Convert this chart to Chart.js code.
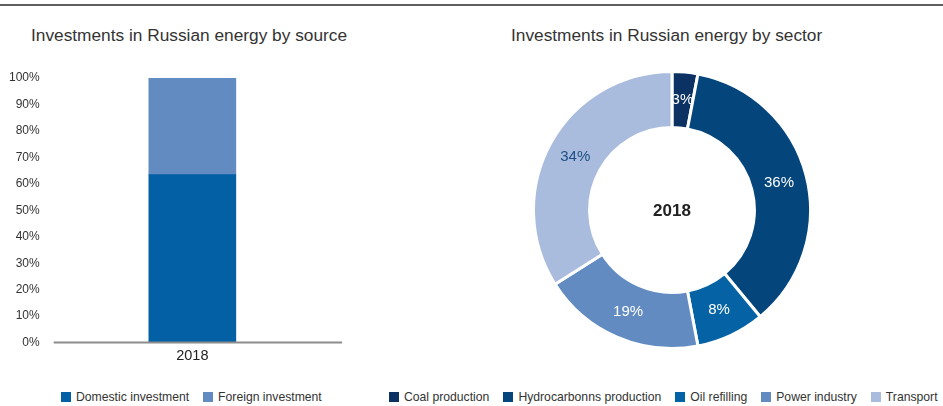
<!DOCTYPE html>
<html>
<head>
<meta charset="utf-8">
<title>Investments in Russian energy</title>
<script src="https://cdn.jsdelivr.net/npm/chart.js@4/dist/chart.umd.min.js"></script>
<style>
    html, body { margin: 0; padding: 0; background: #fff; }
    body { width: 943px; height: 406px; position: relative; overflow: hidden;
           font-family: "Liberation Sans", Arial, sans-serif; color: #333; }
    .rule { position: absolute; left: 0; top: 4px; width: 943px; height: 0; border-top: 2px solid #5f5f5f; }
    .title { position: absolute; top: 27px; font-size: 17.3px; line-height: 17.3px; white-space: nowrap; color: #333; }
    .box { position: absolute; }
    .legend { position: absolute; top: 391px; display: flex; align-items: center;
              font-size: 12.2px; line-height: 12.2px; white-space: nowrap; color: #333; }
    .legend .item { display: flex; align-items: center; margin-right: 14px; }
    .legend .swatch { width: 10px; height: 10px; margin-right: 5px; }
</style>
</head>
<body>
<div class="rule"></div>

<div class="title" style="left:31px">Investments in Russian energy by source</div>
<div class="title" style="left:511px">Investments in Russian energy by sector</div>

<div class="box" style="left:0;top:60px;width:360px;height:310px"><canvas id="sourceChart"></canvas></div>
<div class="box" style="left:532px;top:70px;width:280px;height:280px"><canvas id="sectorChart"></canvas></div>

<div class="legend" id="sourceLegend" style="left:61px"></div>
<div class="legend" id="sectorLegend" style="left:389px"></div>

<script>
'use strict';

// investment by source, share of total (%)
const years = ['2018'];
const sourceNames = ['Domestic investment', 'Foreign investment'];
const domesticShare = [63.5];
const foreignShare = [36.5];

// investment by sector, share of total (%)
const sectorYear = '2018';
const sectorNames = ['Coal production', 'Hydrocarbonns production', 'Oil refilling', 'Power industry', 'Transport'];
const sectorShare = [3, 36, 8, 19, 34];

const percentStep = 10;

const sourceColors = ['#0460a4', '#628bc2'];
const sectorColors = ['#0b3263', '#04467c', '#0462a5', '#628bc2', '#a9bcdd'];
const sectorLabelColors = ['#fff', '#fff', '#fff', '#fff', '#1d4f85'];

Chart.defaults.font.family = '"Liberation Sans", Arial, sans-serif';
Chart.defaults.color = '#333';

function buildLegend(id, names, colors) {
    var el = document.getElementById(id);
    names.forEach(function (name, i) {
        var item = document.createElement('div');
        item.className = 'item';
        var sw = document.createElement('span');
        sw.className = 'swatch';
        sw.style.background = colors[i];
        var txt = document.createElement('span');
        txt.textContent = name;
        item.appendChild(sw);
        item.appendChild(txt);
        el.appendChild(item);
    });
}
buildLegend('sourceLegend', sourceNames, sourceColors);
buildLegend('sectorLegend', sectorNames, sectorColors);

// grey zero line under the bar, a little shorter than the plot area
const baseLine = {
    id: 'baseLine',
    afterDatasetsDraw(chart) {
        const ctx = chart.ctx;
        const y = chart.scales.y.getPixelForValue(0);
        ctx.save();
        ctx.strokeStyle = '#8c8c8c';
        ctx.lineWidth = 2;
        ctx.beginPath();
        ctx.moveTo(chart.chartArea.left + 11, y);
        ctx.lineTo(chart.chartArea.right, y);
        ctx.stroke();
        ctx.restore();
    }
};

new Chart(document.getElementById('sourceChart'), {
    type: 'bar',
    data: {
        labels: years,
        datasets: [
            { label: sourceNames[0], data: domesticShare, backgroundColor: sourceColors[0] },
            { label: sourceNames[1], data: foreignShare, backgroundColor: sourceColors[1] }
        ]
    },
    options: {
        responsive: true,
        maintainAspectRatio: false,
        animation: false,
        layout: { padding: { left: 6, right: 18, top: 18, bottom: 0 } },
        datasets: { bar: { barThickness: 87, borderWidth: 0 } },
        plugins: { legend: { display: false }, tooltip: { enabled: false } },
        scales: {
            x: {
                stacked: true,
                grid: { display: false, drawTicks: false },
                border: { display: false },
                ticks: { padding: 5, color: '#222', font: { size: 14.5 } }
            },
            y: {
                stacked: true,
                min: 0,
                max: 100,
                grid: { display: false, drawTicks: false },
                border: { display: false },
                ticks: {
                    stepSize: percentStep,
                    padding: 3,
                    color: '#333',
                    font: { size: 12 },
                    callback: function (v) { return v + '%'; }
                }
            }
        }
    },
    plugins: [baseLine]
});

// percent labels on the ring and the year in the hole
const ringLabels = {
    id: 'ringLabels',
    afterDatasetsDraw(chart) {
        const ctx = chart.ctx;
        const arcs = chart.getDatasetMeta(0).data;
        ctx.save();
        ctx.textAlign = 'center';
        ctx.textBaseline = 'middle';
        ctx.font = '15px "Liberation Sans", Arial, sans-serif';
        arcs.forEach(function (arc, i) {
            const p = arc.tooltipPosition();
            ctx.fillStyle = sectorLabelColors[i];
            ctx.fillText(sectorShare[i] + '%', p.x, p.y);
        });
        const a = chart.chartArea;
        ctx.font = 'bold 17px "Liberation Sans", Arial, sans-serif';
        ctx.fillStyle = '#222';
        ctx.fillText(sectorYear, (a.left + a.right) / 2, (a.top + a.bottom) / 2 + 1);
        ctx.restore();
    }
};

new Chart(document.getElementById('sectorChart'), {
    type: 'doughnut',
    data: {
        labels: sectorNames,
        datasets: [{
            data: sectorShare,
            backgroundColor: sectorColors,
            borderColor: '#fff',
            borderWidth: 3
        }]
    },
    options: {
        responsive: true,
        maintainAspectRatio: false,
        animation: false,
        cutout: '59.5%',
        plugins: { legend: { display: false }, tooltip: { enabled: false } }
    },
    plugins: [ringLabels]
});
</script>
</body>
</html>
